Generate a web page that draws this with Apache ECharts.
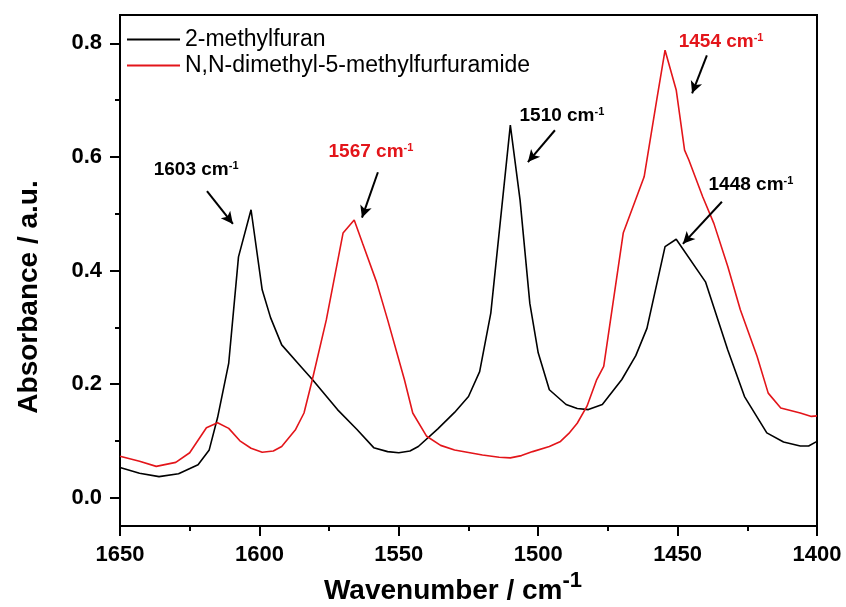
<!DOCTYPE html>
<html>
<head>
<meta charset="utf-8">
<script src="https://cdn.jsdelivr.net/npm/echarts@6/dist/echarts.min.js"></script>
<style>
html,body{margin:0;padding:0;background:#fff;}
#chart{width:846px;height:607px;}
</style>
</head>
<body>
<div id="chart"></div>
<script>
// ---- data ----
const seriesNames = ['2-methylfuran', 'N,N-dimethyl-5-methylfurfuramide'];

const wnBlack = [1650,1643,1636,1629,1622,1618,1615,1611,1607.5,1603,1599,1596,1592,1585,1581,1572,1565,1559,1554,1550,1546,1543,1536,1530,1525,1521,1517,1510,1506.5,1503,1500,1496,1490,1486,1482,1477,1470,1465,1461,1454.5,1450.5,1440,1432,1426,1418,1412,1406,1403,1400];
const absBlack = [0.053,0.043,0.037,0.042,0.058,0.084,0.141,0.237,0.424,0.507,0.366,0.317,0.269,0.230,0.208,0.155,0.120,0.088,0.081,0.079,0.082,0.090,0.121,0.150,0.178,0.222,0.325,0.656,0.524,0.342,0.255,0.190,0.164,0.157,0.155,0.164,0.208,0.250,0.298,0.442,0.455,0.380,0.260,0.178,0.114,0.098,0.091,0.091,0.099];

const wnRed = [1650,1643,1637,1630,1625,1619,1615,1611,1607,1603,1599,1595,1592,1587,1584,1581,1576,1570,1566,1563,1558,1554,1548,1545,1540,1535,1530,1520,1514,1510,1506,1502,1496,1492,1489,1486,1482.5,1479,1476.5,1469.5,1462,1457.5,1454.5,1450.5,1447.5,1446,1441,1437,1432,1427.5,1421.5,1417.5,1413,1406,1402,1400];
const absRed = [0.073,0.064,0.055,0.062,0.079,0.123,0.132,0.122,0.100,0.087,0.080,0.082,0.090,0.120,0.149,0.208,0.313,0.466,0.489,0.448,0.380,0.313,0.208,0.149,0.108,0.092,0.084,0.075,0.071,0.070,0.074,0.081,0.090,0.099,0.113,0.131,0.161,0.208,0.231,0.466,0.565,0.700,0.788,0.718,0.612,0.595,0.530,0.483,0.407,0.331,0.249,0.184,0.158,0.149,0.143,0.144];

const xTicks = [1650,1600,1550,1500,1450,1400];
const yTickLabels = [0.0,0.2,0.4,0.6,0.8];
const yMinorTicks = [0.1,0.3,0.5,0.7];

// peak annotations: label, colour, text anchor and arrow (data coordinates)
const peakLabels = ['1603','1567','1510','1454','1448'];
const peakRed = [false,true,false,true,false];
const peakTextAt = [[1622.7,0.577],[1560,0.609],[1491.5,0.672],[1434.4,0.802],[1423.7,0.551]];
const arrowFrom = [[1618.8,0.540],[1557.5,0.573],[1494,0.647],[1439.5,0.779],[1434.1,0.521]];
const arrowTo = [[1609.5,0.482],[1563.2,0.493],[1503.7,0.591],[1444.8,0.712],[1448.1,0.447]];

// ---- chart ----
const FONT = 'Arial, "Liberation Sans", sans-serif';
const RED = '#e3151a';
const zip = (a, b) => a.map((v, i) => [v, b[i]]);

const chart = echarts.init(document.getElementById('chart'));
const option = {
  animation: false,
  backgroundColor: '#fff',
  grid: { left: 120, right: 29, top: 15, bottom: 81, show: true, borderColor: '#000', borderWidth: 2, backgroundColor: 'transparent' },
  legend: {
    orient: 'vertical', left: 122, top: 23, icon: 'rect', itemWidth: 53, itemHeight: 2, itemGap: 3,
    textStyle: { fontFamily: FONT, fontSize: 23, color: '#000' },
    data: seriesNames
  },
  xAxis: {
    type: 'value', position: 'bottom', inverse: true, min: 1400, max: 1650, interval: 50,
    axisLine: { show: true, onZero: false, lineStyle: { color: '#000', width: 2 } },
    axisTick: { show: true, inside: false, length: 10, lineStyle: { color: '#000', width: 2 } },
    minorTick: { show: true, splitNumber: 2, length: 5, lineStyle: { color: '#000', width: 2 } },
    splitLine: { show: false },
    axisLabel: { inside: false, margin: 18, formatter: v => String(v), fontFamily: FONT, fontSize: 22, fontWeight: 'bold', color: '#000' }
  },
  yAxis: [{
    type: 'value', min: -0.05, max: 0.85,
    axisLine: { show: true, onZero: false, lineStyle: { color: '#000', width: 2 } },
    axisTick: { show: true, length: 10, customValues: yTickLabels, lineStyle: { color: '#000', width: 2 } },
    splitLine: { show: false },
    axisLabel: { margin: 18, customValues: yTickLabels, formatter: v => v.toFixed(1), fontFamily: FONT, fontSize: 22, fontWeight: 'bold', color: '#000' }
  }, {
    type: 'value', min: -0.05, max: 0.85, position: 'left',
    axisLine: { show: false, onZero: false },
    axisTick: { show: true, length: 5, customValues: yMinorTicks, lineStyle: { color: '#000', width: 2 } },
    splitLine: { show: false },
    axisLabel: { show: false }
  }],
  series: [{
    name: seriesNames[0], type: 'line', symbol: 'none', data: zip(wnBlack, absBlack),
    lineStyle: { color: '#000', width: 1.6 }, itemStyle: { color: '#000' },
    markPoint: {
      symbol: 'circle', symbolSize: 0, silent: true,
      data: peakLabels.map((t, i) => ({
        coord: peakTextAt[i],
        label: {
          show: true, position: 'inside',
          formatter: t + ' cm{sup|-1}',
          fontFamily: FONT, fontSize: 19, fontWeight: 'bold',
          color: peakRed[i] ? RED : '#000',
          rich: { sup: { fontFamily: FONT, fontSize: 11, fontWeight: 'bold', color: peakRed[i] ? RED : '#000', verticalAlign: 'top' } }
        }
      }))
    },
    markLine: {
      silent: true, symbol: ['none', 'arrow'], symbolSize: [9, 12],
      lineStyle: { color: '#000', width: 2, type: 'solid' },
      label: { show: false },
      data: arrowFrom.map((f, i) => [{ coord: f }, { coord: arrowTo[i] }])
    }
  }, {
    name: seriesNames[1], type: 'line', symbol: 'none', data: zip(wnRed, absRed),
    lineStyle: { color: RED, width: 1.6 }, itemStyle: { color: RED }
  }],
  graphic: [{
    type: 'text', x: 29, y: 297, rotation: Math.PI / 2,
    style: { text: 'Absorbance / a.u.', fontFamily: FONT, fontSize: 28, fontWeight: 'bold', fill: '#000', align: 'center', verticalAlign: 'middle' }
  }, {
    type: 'text', x: 453, y: 612,
    style: {
      text: 'Wavenumber / cm{sup|-1}', fontFamily: FONT, fontSize: 28, fontWeight: 'bold', fill: '#000', align: 'center', verticalAlign: 'bottom',
      rich: { sup: { fontFamily: FONT, fontSize: 22, fontWeight: 'bold', fill: '#000', verticalAlign: 'bottom', padding: [0, 0, 20, 0] } }
    }
  }]
};
chart.setOption(option);
</script>
</body>
</html>
